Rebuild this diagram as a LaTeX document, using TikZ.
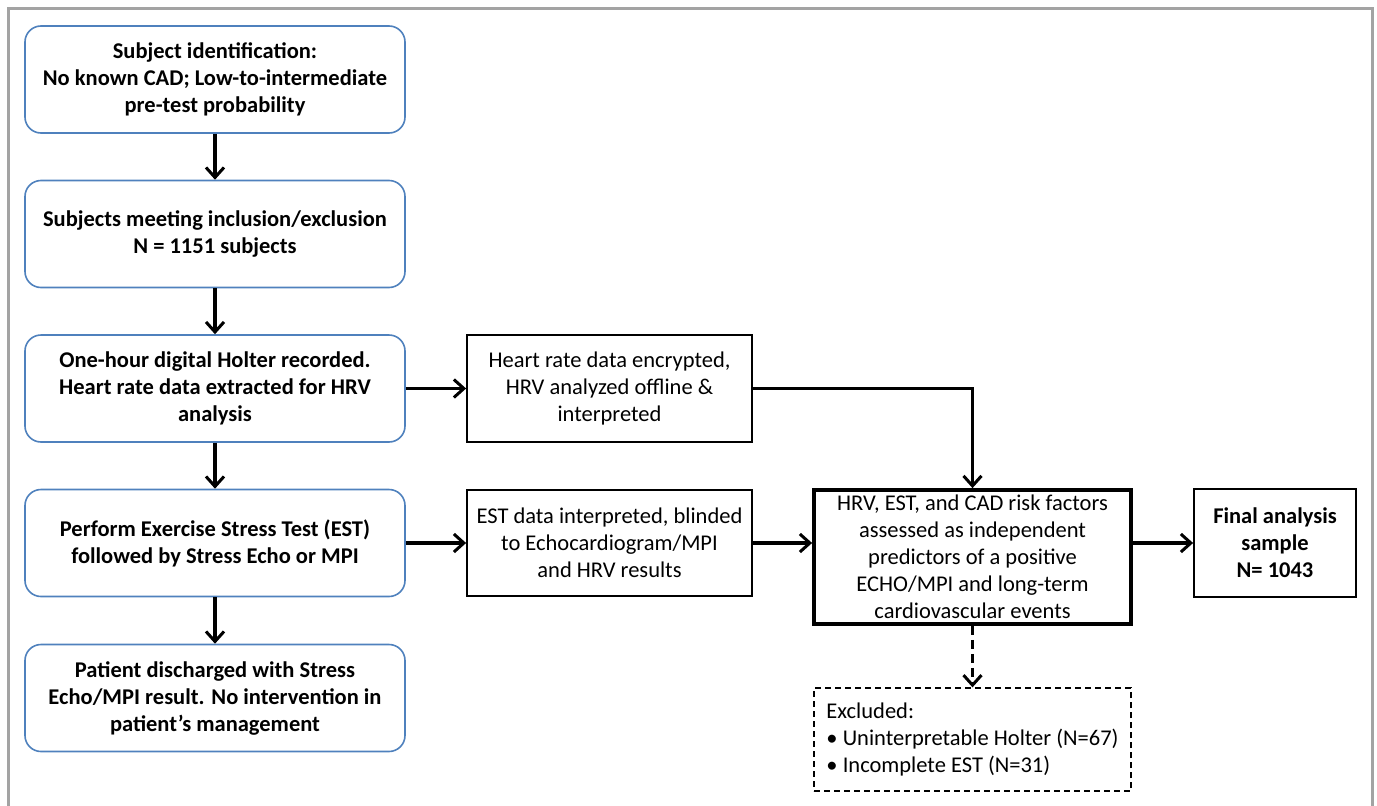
\documentclass[tikz,border=0pt]{standalone}
\usepackage{fontspec}
\setmainfont{Carlito}
\usetikzlibrary{arrows.meta}
\definecolor{boxblue}{HTML}{4F81BD}
\definecolor{framegray}{HTML}{A3A3A3}
\begin{document}
\begin{tikzpicture}[x=1pt,y=-1pt,
  lbox/.style={draw=boxblue, line width=1.6pt, rounded corners=16pt, fill=white,
    minimum width=380pt, minimum height=107pt, align=center, inner sep=0pt,
    font=\fontsize{22.5}{27}\selectfont\bfseries},
  mbox/.style={draw=black, line width=1.8pt, fill=white, align=center, inner sep=0pt,
    font=\fontsize{22.5}{27}\selectfont},
  arr/.style={line width=3.5pt, -{Straight Barb[length=10pt,width=18pt,line width=3pt]}},
]
\useasboundingbox (0,0) rectangle (1377,806);
\draw[framegray, line width=3pt] (8.5,806) -- (8.5,8.5) -- (1372,8.5) -- (1372,806);

\node[lbox] (s1) at (215,79.5) {Subject identification:\\No known CAD; Low-to-intermediate\\pre-test probability};
\node[lbox] (s2) at (215,234) {Subjects meeting inclusion/exclusion\\N = 1151 subjects};
\node[lbox] (s3) at (215,388.5) {One-hour digital Holter recorded.\\Heart rate data extracted for HRV\\analysis};
\node[lbox] (s4) at (215,543) {Perform Exercise Stress Test (EST)\\followed by Stress Echo or MPI};
\node[lbox] (s5) at (215,698) {Patient discharged with Stress\\Echo/MPI result. No intervention in\\patient’s management};

\node[mbox, minimum width=285pt, minimum height=107pt] (a) at (609.5,388.5) {Heart rate data encrypted,\\HRV analyzed offline \&\\interpreted};
\node[mbox, minimum width=285pt, minimum height=106pt] (b) at (609.5,543) {EST data interpreted, blinded\\to Echocardiogram/MPI\\and HRV results};
\node[mbox, line width=3.8pt, minimum width=317pt, minimum height=134pt] (c) at (972.5,557) {HRV, EST, and CAD risk factors\\assessed as independent\\predictors of a positive\\ECHO/MPI and long-term\\cardiovascular events};
\node[mbox, minimum width=162pt, minimum height=108pt, font=\fontsize{22.5}{27}\selectfont\bfseries] (f) at (1275,543) {Final analysis\\sample\\N= 1043};
\node[mbox, line width=1.3pt, dash pattern=on 6pt off 4pt, minimum width=317pt, minimum height=103pt, align=left] (e) at (972.5,739.5) {Excluded:\\\textbullet\ Uninterpretable Holter (N=67)\\\textbullet\ Incomplete EST (N=31)};

\draw[arr] (s1) -- (s2);
\draw[arr] (s2) -- (s3);
\draw[arr] (s3) -- (s4);
\draw[arr] (s4) -- (s5);
\draw[arr] (s3.east) -- (a.west);
\draw[arr] (s4.east) -- (b.west);
\draw[arr] (a.east) -| (c.north);
\draw[arr] (b.east) -- (b.east -| c.west);
\draw[arr] (f.west -| c.east) -- (f.west);
\draw[arr, dash pattern=on 9pt off 5pt] (c.south) -- (e.north);
\end{tikzpicture}
\end{document}
